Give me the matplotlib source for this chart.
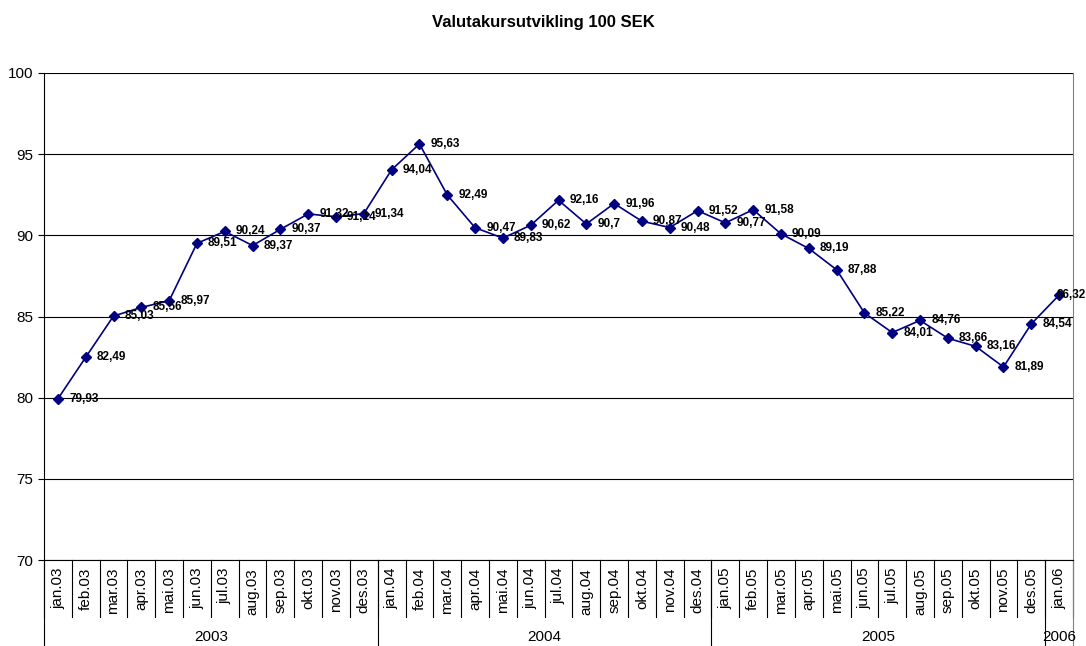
import numpy as np
import matplotlib.pyplot as plt

plt.rcParams['font.family'] = ['Liberation Sans', 'DejaVu Sans']

months = ["jan", "feb", "mar", "apr", "mai", "jun", "jul", "aug", "sep", "okt", "nov", "des"]
categories = [f"{m}.{y}" for y in ["03", "04", "05"] for m in months] + ["jan.06"]
years = ["2003", "2004", "2005", "2006"]
year_sizes = [12, 12, 12, 1]
values = [79.93, 82.49, 85.03, 85.56, 85.97, 89.51, 90.24, 89.37, 90.37, 91.32, 91.14, 91.34,
          94.04, 95.63, 92.49, 90.47, 89.83, 90.62, 92.16, 90.7, 91.96, 90.87, 90.48, 91.52,
          90.77, 91.58, 90.09, 89.19, 87.88, 85.22, 84.01, 84.76, 83.66, 83.16, 81.89, 84.54,
          86.32]

fig = plt.figure(figsize=(10.86, 6.46), dpi=100)
ax = fig.add_axes([44/1086, 1-560/646, (1073-44)/1086, (560-73)/646])

x = np.arange(len(values))
ax.plot(x, values, color="#000080", lw=1.2, marker="D", ms=5.5)
for xi, v in zip(x, values):
    # last label is pushed left so it stays inside the picture
    dx = 8 if xi < len(values) - 1 else -2
    ax.annotate(f"{v:g}".replace(".", ","), (xi, v), xytext=(dx, 0), textcoords="offset points",
                fontsize=8.5, fontweight="bold", va="center", ha="left")

ax.set_xlim(-0.5, len(values) - 0.5)
ax.set_ylim(70, 100)
ax.set_yticks([70, 75, 80, 85, 90, 95, 100])
ax.tick_params(axis="y", labelsize=11, length=4, direction="out")
ax.yaxis.grid(True, color="black", lw=0.8)
ax.set_axisbelow(True)
ax.set_xticks([])
ax.spines["right"].set_color("#808080")
ax.spines["top"].set_visible(False)

tr = ax.get_xaxis_transform()
# month labels and separators
for i, c in enumerate(categories):
    ax.text(i, -0.016, c, rotation=90, ha="center", va="top", fontsize=11, transform=tr)
for b in np.arange(len(values) + 1) - 0.5:
    ax.plot([b, b], [0, -0.117], color="black", lw=0.8, transform=tr, clip_on=False)
# year labels and separators
start = 0
for yl, n in zip(years, year_sizes):
    ax.text(start + (n - 1) / 2, -0.158, yl, ha="center", va="center", fontsize=11, transform=tr)
    ax.plot([start - 0.5, start - 0.5], [0, -0.18], color="black", lw=0.8, transform=tr, clip_on=False)
    start += n
ax.plot([start - 0.5, start - 0.5], [0, -0.18], color="#808080", lw=0.8, transform=tr, clip_on=False)

fig.suptitle("Valutakursutvikling 100 SEK", y=1-22/646, va="center", fontsize=12, fontweight="bold")
fig.savefig("out.png", dpi=100)
